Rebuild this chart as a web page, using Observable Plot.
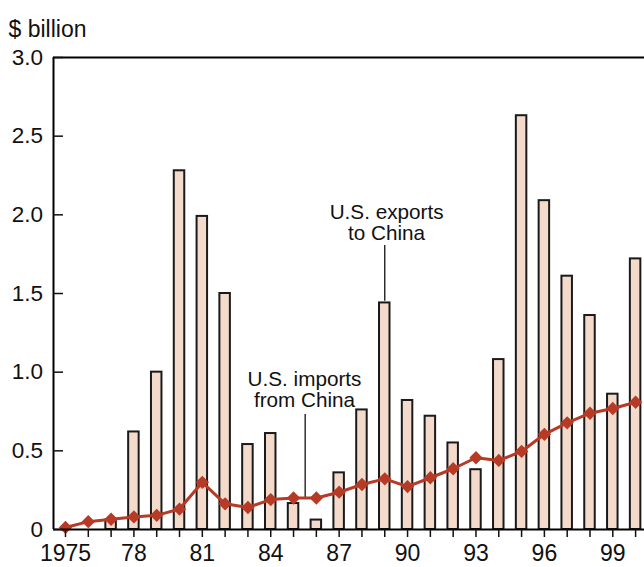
<!DOCTYPE html>
<html><head><meta charset="utf-8">
<script src="https://cdn.jsdelivr.net/npm/d3@7"></script>
<script src="https://cdn.jsdelivr.net/npm/@observablehq/plot@0.6"></script>
<style>
html,body{margin:0;padding:0;background:#fff;overflow:hidden}
</style></head><body><div id="chart"></div>
<script>
const years = [1975,1976,1977,1978,1979,1980,1981,1982,1983,1984,1985,1986,1987,1988,1989,1990,1991,1992,1993,1994,1995,1996,1997,1998,1999,2000];
const exportsToChina = [0,0,0.06,0.62,1.00,2.28,1.99,1.50,0.54,0.61,0.165,0.06,0.36,0.76,1.44,0.82,0.72,0.55,0.38,1.08,2.63,2.09,1.61,1.36,0.86,1.72];
const importsFromChina = [0.013,0.05,0.065,0.08,0.09,0.13,0.30,0.163,0.14,0.19,0.20,0.20,0.237,0.286,0.322,0.273,0.329,0.386,0.456,0.439,0.496,0.605,0.678,0.739,0.769,0.809];
const yTicks = [0,0.5,1.0,1.5,2.0,2.5,3.0];
const labeledYears = [1975,1978,1981,1984,1987,1990,1993,1996,1999];
const yearLabels = ["1975","78","81","84","87","90","93","96","99"];

const rows = years.map((year, i) => ({year, exports: exportsToChina[i], imports: importsFromChina[i]}));
const xDomain = [1974.474, 2000.39];
const red = "#b73a26";

const chart = Plot.plot({
  width: 644, height: 567,
  marginLeft: 53, marginRight: 0, marginTop: 57, marginBottom: 38,
  style: {fontFamily: "'Liberation Sans', Arial, sans-serif", fontSize: "22px", color: "#111", background: "#fff", overflow: "visible"},
  x: {type: "linear", domain: xDomain},
  y: {domain: [0, 3]},
  marks: [
    Plot.rect(rows.filter(d => d.exports > 0), {
      x1: d => d.year - 0.23, x2: d => d.year + 0.23, y1: 0, y2: "exports",
      fill: "#f3dacb", stroke: "#1a1a1a", strokeWidth: 2
    }),
    Plot.line(rows, {x: "year", y: "imports", stroke: red, strokeWidth: 3}),
    Plot.dot(rows, {x: "year", y: "imports", symbol: "diamond2", r: 6, fill: red, stroke: "none"}),
    Plot.ruleY([0], {stroke: "#000", strokeWidth: 2}),
    Plot.ruleY([3], {stroke: "#000", strokeWidth: 2}),
    Plot.ruleX([xDomain[0]], {stroke: "#000", strokeWidth: 2}),
    Plot.axisX({ticks: years, tickSize: 8, tickPadding: 7, strokeWidth: 1.5,
      tickFormat: d => { const k = labeledYears.indexOf(d); return k >= 0 ? yearLabels[k] : ""; },
      label: null, fontSize: 23}),
    Plot.axisY({ticks: yTicks, tickSize: -10, tickPadding: 20.5, strokeWidth: 1.5,
      tickFormat: d => d === 0 ? "0" : d.toFixed(1), label: null, fontSize: 22.5}),
    Plot.ruleX([{x: 1989, y1: 1.45, y2: 1.805}], {x: "x", y1: "y1", y2: "y2", stroke: "#111", strokeWidth: 1.3}),
    Plot.text([{x: 1989.08, y: 1.948, t: "U.S. exports\nto China"}], {x: "x", y: "y", text: "t", fontSize: 20.7, lineHeight: 1.03, fill: "#111"}),
    Plot.ruleX([{x: 1985.51, y1: 0.205, y2: 0.731}], {x: "x", y1: "y1", y2: "y2", stroke: "#111", strokeWidth: 1.3}),
    Plot.text([{x: 1985.48, y: 0.89, t: "U.S. imports\nfrom China"}], {x: "x", y: "y", text: "t", fontSize: 20.7, lineHeight: 1.03, fill: "#111"}),
    Plot.text(["$ billion"], {text: d => d, frameAnchor: "top-left", dx: -45, dy: -37, textAnchor: "start", fontSize: 23, fill: "#111"})
  ]
});
document.getElementById("chart").appendChild(chart);
</script></body></html>
